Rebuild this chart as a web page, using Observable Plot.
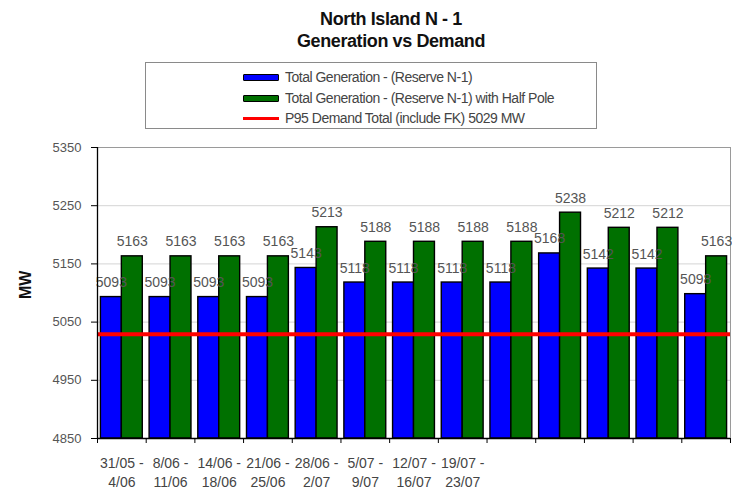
<!DOCTYPE html>
<html><head><meta charset="utf-8">
<script src="https://cdn.jsdelivr.net/npm/d3@7"></script>
<script src="https://cdn.jsdelivr.net/npm/@observablehq/plot@0.6"></script>
<style>
body{margin:0;background:#fff;font-family:"Liberation Sans",Arial,sans-serif;}
#wrap{position:relative;width:732px;height:489px;overflow:hidden;background:#fff;}
#title{position:absolute;left:241px;width:300px;top:8px;text-align:center;font-weight:bold;font-size:18px;line-height:22px;color:#111;letter-spacing:-0.4px;}
#legend{position:absolute;left:145px;top:62px;width:452px;height:67px;border:1px solid #8a8a8a;box-sizing:border-box;font-family:"Liberation Sans",Arial,sans-serif;font-size:14px;letter-spacing:-0.5px;color:#444;}
.item{position:absolute;left:97px;height:20px;display:flex;align-items:center;white-space:nowrap;}
.sw{width:36px;margin-right:6px;box-sizing:border-box;}
#chart{position:absolute;left:0;top:0;}
</style></head>
<body>
<div id="wrap">
  <div id="title"></div>
  <div id="legend"></div>
  <div id="chart"></div>
</div>
<script>
const titleLines = ["North Island N - 1", "Generation vs Demand"];
const periods = ["31/05 - 4/06","8/06 - 11/06","14/06 - 18/06","21/06 - 25/06","28/06 - 2/07","5/07 - 9/07","12/07 - 16/07","19/07 - 23/07","w9","w10","w11","w12","w13"];
const tickLabels = ["31/05 -\n4/06","8/06 -\n11/06","14/06 -\n18/06","21/06 -\n25/06","28/06 -\n2/07","5/07 -\n9/07","12/07 -\n16/07","19/07 -\n23/07","","","","",""];
const seriesNames = ["Total Generation - (Reserve N-1)", "Total Generation - (Reserve N-1) with Half Pole"];
const seriesColors = ["#0000ff", "#007000"];
const generation = [5093,5093,5093,5093,5143,5118,5118,5118,5118,5168,5142,5142,5098];
const generationHalfPole = [5163,5163,5163,5163,5213,5188,5188,5188,5188,5238,5212,5212,5163];
const demandName = "P95 Demand  Total (include FK) 5029 MW";
const demand = 5029;
const demandColor = "#ff0000";
const yTicks = [4850,4950,5050,5150,5250,5350];
const yLabel = "MW";

document.getElementById("title").innerHTML = titleLines.join("<br>");
const leg = document.getElementById("legend");
const rowsTop = [4, 25, 45];
[0,1].forEach(i => {
  const d = document.createElement("div"); d.className = "item"; d.style.top = rowsTop[i] + "px";
  d.innerHTML = `<div class="sw" style="height:7px;background:${seriesColors[i]};border:1.5px solid #000;border-radius:1px"></div><span>${seriesNames[i]}</span>`;
  leg.appendChild(d);
});
{
  const d = document.createElement("div"); d.className = "item"; d.style.top = rowsTop[2] + "px";
  d.innerHTML = `<div class="sw" style="height:3px;background:${demandColor}"></div><span>${demandName}</span>`;
  leg.appendChild(d);
}

const W = 732, H = 489, mL = 97, mR = 2, mT = 147, mB = 51;
const pi = 0.14, po = 0.07;
const step = (W - mL - mR) / (periods.length - pi + 2 * po);
const bw = step * (1 - pi);
const frameH = H - mT - mB;

const rows = [];
periods.forEach((p, i) => {
  rows.push({period: p, series: seriesNames[0], value: generation[i], side: 0});
  rows.push({period: p, series: seriesNames[1], value: generationHalfPole[i], side: 1});
});
const blue = rows.filter(d => d.side === 0), green = rows.filter(d => d.side === 1);
const labelMap = new Map(periods.map((p, i) => [p, tickLabels[i]]));

const chart = Plot.plot({
  width: W, height: H,
  marginLeft: mL, marginRight: mR, marginTop: mT, marginBottom: mB,
  style: {fontFamily: "'Liberation Sans', Arial, sans-serif", background: "transparent"},
  x: {domain: periods, paddingInner: pi, paddingOuter: po, round: false, axis: null},
  y: {domain: [yTicks[0], yTicks[yTicks.length - 1]], axis: null},
  marks: [
    Plot.ruleY(yTicks, {stroke: "#d4d4d4", strokeWidth: 1}),
    Plot.frame({stroke: "#9a9a9a"}),
    Plot.barY(blue, {x: "period", y1: yTicks[0], y2: "value", fill: seriesColors[0], stroke: "#000", strokeWidth: 1.4, insetRight: bw / 2}),
    Plot.barY(green, {x: "period", y1: yTicks[0], y2: "value", fill: seriesColors[1], stroke: "#000", strokeWidth: 1.4, insetLeft: bw / 2}),
    Plot.ruleY([demand], {stroke: demandColor, strokeWidth: 4}),
    Plot.text(blue, {x: "period", y: "value", text: d => String(d.value), dx: -bw / 4, dy: -10, lineAnchor: "bottom", fontSize: 14, fill: "#555"}),
    Plot.text(green, {x: "period", y: "value", text: d => String(d.value), dx: bw / 4, dy: -10, lineAnchor: "bottom", fontSize: 14, fill: "#555"}),
    Plot.ruleY([yTicks[0]], {stroke: "#000", strokeWidth: 1.3}),
    Plot.ruleX(periods.slice(0, 1), {x: d => d, dx: -step / 2, stroke: "#000", strokeWidth: 1.3}),
    Plot.ruleX(periods, {x: d => d, dx: -step / 2, stroke: "#000", insetTop: frameH, insetBottom: -5}),
    Plot.ruleX(periods.slice(-1), {x: d => d, dx: step / 2, stroke: "#000", insetTop: frameH, insetBottom: -5}),
    Plot.axisY(yTicks, {ticks: yTicks, tickFormat: d => String(d), tickSize: 6, tickPadding: 10, fontSize: 13, color: "#555", stroke: "#000", label: null}),
    Plot.text(periods, {x: d => d, text: d => labelMap.get(d), frameAnchor: "bottom", lineAnchor: "top", dy: 17, lineHeight: 1.3, fontSize: 14, fill: "#444"}),
    Plot.text([yLabel], {frameAnchor: "left", text: d => d, rotate: -90, dx: -72, dy: 6, fontSize: 16, fontWeight: "bold", fill: "#111"})
  ]
});
document.getElementById("chart").appendChild(chart);
</script>
</body></html>
